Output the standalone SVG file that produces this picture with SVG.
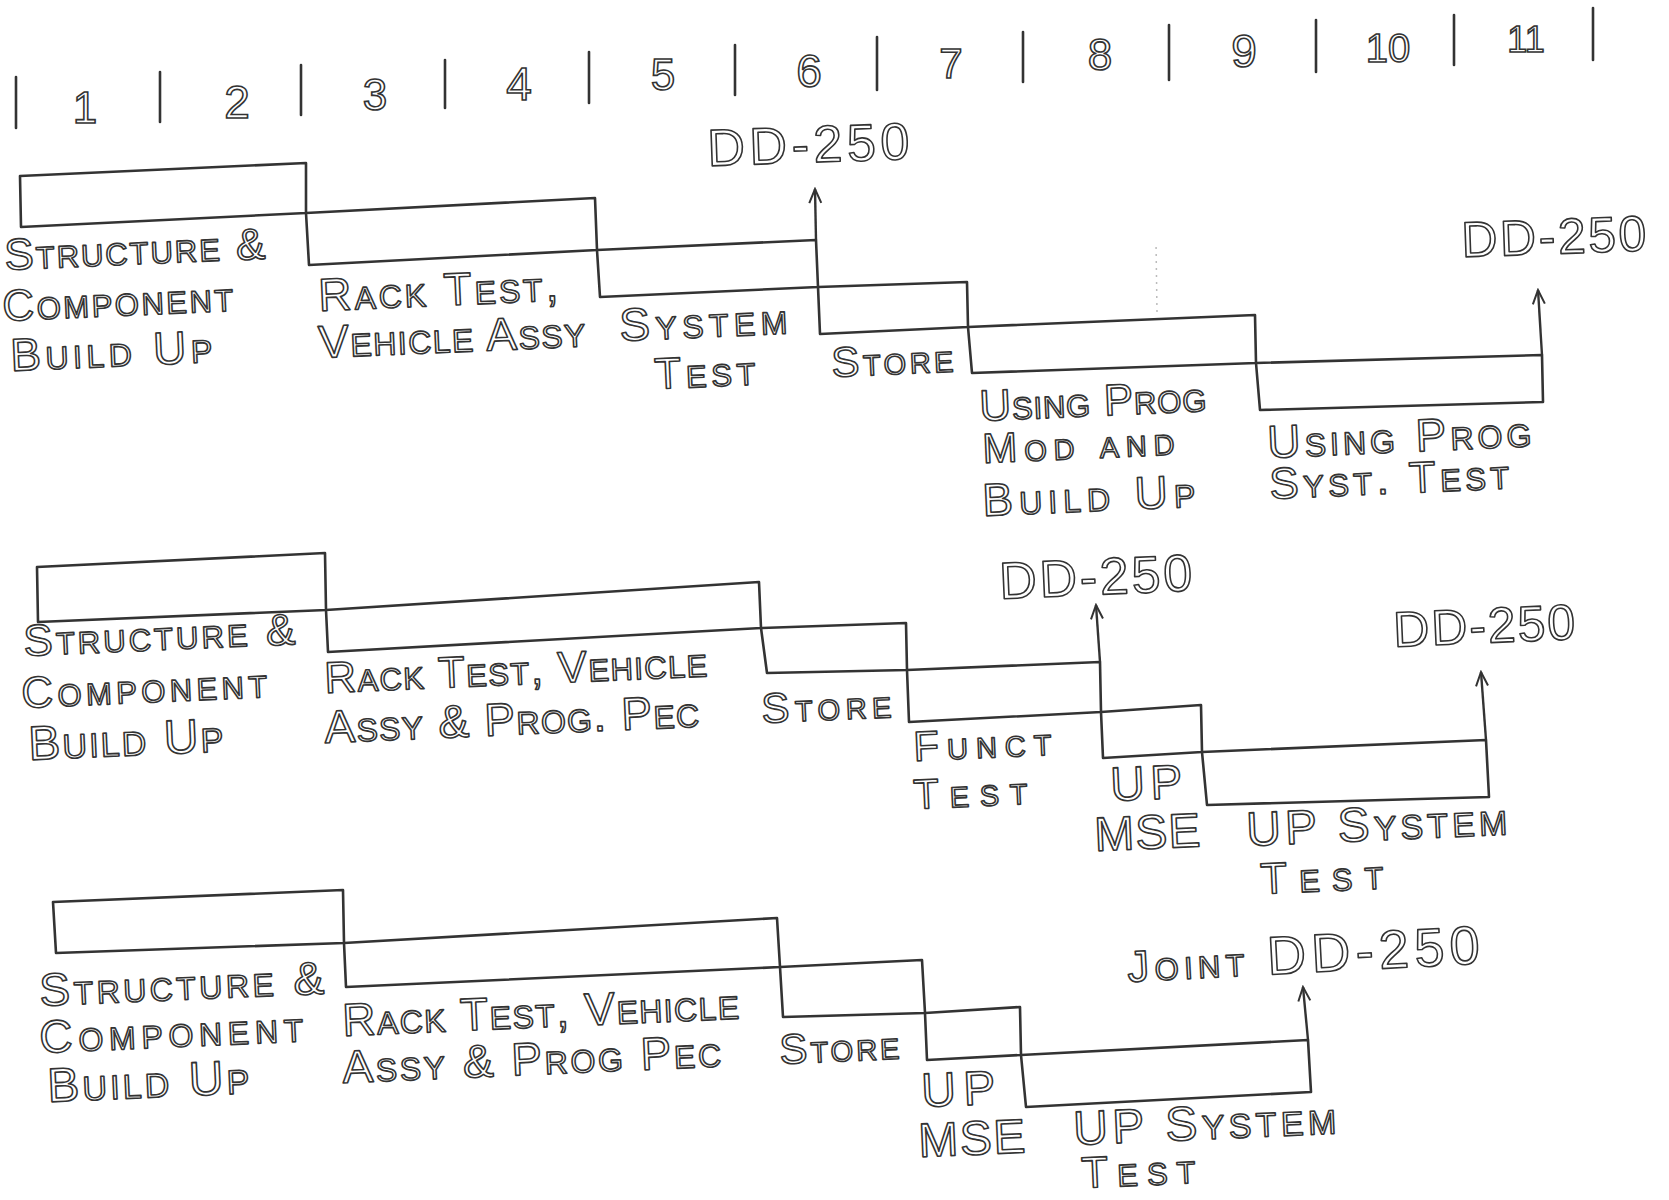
<svg xmlns="http://www.w3.org/2000/svg" width="1669" height="1200" viewBox="0 0 1669 1200">
<style>
.bg{fill:#fff}
.bar{fill:none;stroke:#333;stroke-width:2.6;stroke-linejoin:round}
.tick{stroke:#333;stroke-width:2.6;stroke-linecap:round}
.arr{fill:none;stroke:#333;stroke-width:2.4}
.lbl{font-family:"Liberation Sans",Arial,sans-serif;font-variant:small-caps;fill:#fff;stroke:#333;stroke-width:1.6;stroke-linejoin:round}
.num{font-family:"Liberation Sans",Arial,sans-serif;fill:#fff;stroke:#333;stroke-width:1.6;text-anchor:middle}
.faint{fill:none;stroke:#bbb;stroke-width:1.5;stroke-dasharray:2 5}
</style>
<defs>
<marker id="ah" viewBox="-2 -9 18 18" refX="14" refY="0" markerWidth="18" markerHeight="18" markerUnits="userSpaceOnUse" orient="auto">
<path d="M0,-6 L14,0 L0,6" fill="none" stroke="#333" stroke-width="2"/>
</marker>
</defs>
<rect class="bg" x="0" y="0" width="1669" height="1200"/>

<g id="timeline">
<line class="tick" x1="16" y1="128" x2="16" y2="77"/>
<line class="tick" x1="160" y1="122" x2="160" y2="72"/>
<line class="tick" x1="301" y1="115" x2="301" y2="65"/>
<line class="tick" x1="445" y1="108" x2="445" y2="60"/>
<line class="tick" x1="589" y1="103" x2="589" y2="52"/>
<line class="tick" x1="735" y1="95" x2="735" y2="45"/>
<line class="tick" x1="877" y1="90" x2="877" y2="37"/>
<line class="tick" x1="1023" y1="82" x2="1023" y2="32"/>
<line class="tick" x1="1169" y1="80" x2="1169" y2="25"/>
<line class="tick" x1="1316" y1="72" x2="1316" y2="20"/>
<line class="tick" x1="1454" y1="65" x2="1454" y2="15"/>
<line class="tick" x1="1593" y1="60" x2="1593" y2="8"/>
<text class="num" x="85" y="123" font-size="44">1</text>
<text class="num" x="237" y="118" font-size="46">2</text>
<text class="num" x="375" y="110" font-size="44">3</text>
<text class="num" x="519" y="100" font-size="46">4</text>
<text class="num" x="663" y="90" font-size="44">5</text>
<text class="num" x="809" y="87" font-size="46">6</text>
<text class="num" x="951" y="78" font-size="42">7</text>
<text class="num" x="1100" y="70" font-size="44">8</text>
<text class="num" x="1244" y="67" font-size="46">9</text>
<text class="num" x="1388" y="62" font-size="40">10</text>
<text class="num" x="1526" y="52" font-size="36">11</text>
</g>

<!-- Row 1 -->
<g id="r1-structure">
<polygon class="bar" points="20,176 306,163 306,213 21,227"/>
<text class="lbl" x="5" y="270" font-size="44" textLength="261" lengthAdjust="spacing" transform="rotate(-2.5 5 270)">Structure &amp;</text>
<text class="lbl" x="3" y="321" font-size="44" textLength="231" lengthAdjust="spacing" transform="rotate(-2.5 3 321)">Component</text>
<text class="lbl" x="11" y="371" font-size="46" textLength="202" lengthAdjust="spacing" transform="rotate(-2.5 11 371)">Build Up</text>
</g>
<g id="r1-rack">
<polygon class="bar" points="306,213 595,198 597,250 309,265"/>
<text class="lbl" x="319" y="311" font-size="46" textLength="240" lengthAdjust="spacing" transform="rotate(-2.5 319 311)">Rack Test,</text>
<text class="lbl" x="319" y="358" font-size="46" textLength="267" lengthAdjust="spacing" transform="rotate(-2.5 319 358)">Vehicle Assy</text>
</g>
<g id="r1-system">
<polygon class="bar" points="597,250 816,240 818,287 600,297"/>
<text class="lbl" x="620" y="341" font-size="46" textLength="168" lengthAdjust="spacing" transform="rotate(-2.5 620 341)">System</text>
<text class="lbl" x="655" y="389" font-size="44" textLength="101" lengthAdjust="spacing" transform="rotate(-2.5 655 389)">Test</text>
</g>
<g id="r1-store">
<polygon class="bar" points="818,287 967,282 968,327 820,334"/>
<text class="lbl" x="832" y="377" font-size="42" textLength="122" lengthAdjust="spacing" transform="rotate(-2.5 832 377)">Store</text>
</g>
<g id="r1-mod">
<polygon class="bar" points="968,327 1255,315 1256,363 972,373"/>
<text class="lbl" x="980" y="421" font-size="44" textLength="227" lengthAdjust="spacing" transform="rotate(-2.5 980 421)">Using Prog</text>
<text class="lbl" x="983" y="463" font-size="42" textLength="192" lengthAdjust="spacing" transform="rotate(-2.5 983 463)">Mod and</text>
<text class="lbl" x="983" y="516" font-size="46" textLength="213" lengthAdjust="spacing" transform="rotate(-2.5 983 516)">Build Up</text>
</g>
<g id="r1-systest">
<polygon class="bar" points="1256,363 1542,355 1543,402 1260,410"/>
<text class="lbl" x="1268" y="458" font-size="46" textLength="264" lengthAdjust="spacing" transform="rotate(-2.5 1268 458)">Using Prog</text>
<text class="lbl" x="1270" y="499" font-size="44" textLength="240" lengthAdjust="spacing" transform="rotate(-2.5 1270 499)">Syst. Test</text>
</g>
<g id="r1-dd250-a">
<text class="lbl" x="708" y="166" font-size="52" textLength="202" lengthAdjust="spacing" transform="rotate(-2 708 166)">DD-250</text>
</g>
<g id="r1-dd250-b">
<text class="lbl" x="1462" y="257" font-size="50" textLength="185" lengthAdjust="spacing" transform="rotate(-2 1462 257)">DD-250</text>
</g>

<!-- Row 2 -->
<g id="r2-structure">
<polygon class="bar" points="37,567 325,553 326,610 38,622"/>
<text class="lbl" x="24" y="656" font-size="44" textLength="272" lengthAdjust="spacing" transform="rotate(-2.5 24 656)">Structure &amp;</text>
<text class="lbl" x="22" y="708" font-size="44" textLength="246" lengthAdjust="spacing" transform="rotate(-2.5 22 708)">Component</text>
<text class="lbl" x="29" y="760" font-size="48" textLength="195" lengthAdjust="spacing" transform="rotate(-2.5 29 760)">Build Up</text>
</g>
<g id="r2-rack">
<polygon class="bar" points="326,610 759,582 761,628 328,652"/>
<text class="lbl" x="325" y="693" font-size="44" textLength="383" lengthAdjust="spacing" transform="rotate(-2.5 325 693)">Rack Test, Vehicle</text>
<text class="lbl" x="325" y="743" font-size="46" textLength="375" lengthAdjust="spacing" transform="rotate(-2.5 325 743)">Assy &amp; Prog. Pec</text>
</g>
<g id="r2-store">
<polygon class="bar" points="761,628 906,623 907,670 767,673"/>
<text class="lbl" x="762" y="723" font-size="42" textLength="130" lengthAdjust="spacing" transform="rotate(-2.5 762 723)">Store</text>
</g>
<g id="r2-funct">
<polygon class="bar" points="907,670 1100,662 1101,712 909,722"/>
<text class="lbl" x="914" y="761" font-size="42" textLength="138" lengthAdjust="spacing" transform="rotate(-2.5 914 761)">Funct</text>
<text class="lbl" x="914" y="809" font-size="42" textLength="114" lengthAdjust="spacing" transform="rotate(-2.5 914 809)">Test</text>
</g>
<g id="r2-mse">
<polygon class="bar" points="1101,712 1201,705 1202,752 1103,758"/>
<text class="lbl" x="1111" y="801" font-size="48" textLength="72" lengthAdjust="spacing" transform="rotate(-2.5 1111 801)">UP</text>
<text class="lbl" x="1095" y="851" font-size="48" textLength="106" lengthAdjust="spacing" transform="rotate(-2.5 1095 851)">MSE</text>
</g>
<g id="r2-systest">
<polygon class="bar" points="1202,752 1486,740 1489,797 1207,805"/>
<text class="lbl" x="1247" y="846" font-size="48" textLength="261" lengthAdjust="spacing" transform="rotate(-2.5 1247 846)">UP System</text>
<text class="lbl" x="1261" y="894" font-size="44" textLength="123" lengthAdjust="spacing" transform="rotate(-2.5 1261 894)">Test</text>
</g>
<g id="r2-dd250-a">
<text class="lbl" x="1000" y="599" font-size="52" textLength="193" lengthAdjust="spacing" transform="rotate(-2.5 1000 599)">DD-250</text>
</g>
<g id="r2-dd250-b">
<text class="lbl" x="1394" y="647" font-size="50" textLength="182" lengthAdjust="spacing" transform="rotate(-2.5 1394 647)">DD-250</text>
</g>

<!-- Row 3 -->
<g id="r3-structure">
<polygon class="bar" points="53,902 343,890 344,943 56,953"/>
<text class="lbl" x="40" y="1006" font-size="46" textLength="285" lengthAdjust="spacing" transform="rotate(-2.5 40 1006)">Structure &amp;</text>
<text class="lbl" x="40" y="1053" font-size="46" textLength="264" lengthAdjust="spacing" transform="rotate(-2.5 40 1053)">Component</text>
<text class="lbl" x="48" y="1102" font-size="48" textLength="202" lengthAdjust="spacing" transform="rotate(-2.5 48 1102)">Build Up</text>
</g>
<g id="r3-rack">
<polygon class="bar" points="344,943 777,918 780,967 346,987"/>
<text class="lbl" x="343" y="1036" font-size="46" textLength="397" lengthAdjust="spacing" transform="rotate(-2.5 343 1036)">Rack Test, Vehicle</text>
<text class="lbl" x="343" y="1083" font-size="46" textLength="379" lengthAdjust="spacing" transform="rotate(-2.5 343 1083)">Assy &amp; Prog Pec</text>
</g>
<g id="r3-store">
<polygon class="bar" points="780,967 922,960 925,1013 783,1017"/>
<text class="lbl" x="780" y="1064" font-size="42" textLength="120" lengthAdjust="spacing" transform="rotate(-2.5 780 1064)">Store</text>
</g>
<g id="r3-mse">
<polygon class="bar" points="925,1013 1020,1007 1021,1055 927,1060"/>
<text class="lbl" x="922" y="1107" font-size="48" textLength="74" lengthAdjust="spacing" transform="rotate(-2.5 922 1107)">UP</text>
<text class="lbl" x="919" y="1157" font-size="48" textLength="107" lengthAdjust="spacing" transform="rotate(-2.5 919 1157)">MSE</text>
</g>
<g id="r3-systest">
<polygon class="bar" points="1021,1055 1308,1040 1311,1092 1026,1107"/>
<text class="lbl" x="1074" y="1145" font-size="48" textLength="263" lengthAdjust="spacing" transform="rotate(-2.5 1074 1145)">UP System</text>
<text class="lbl" x="1082" y="1188" font-size="44" textLength="114" lengthAdjust="spacing" transform="rotate(-2.5 1082 1188)">Test</text>
</g>
<g id="r3-joint-dd250">
<text class="lbl" x="1128" y="982" textLength="353" lengthAdjust="spacing" transform="rotate(-3 1128 982)"><tspan font-size="44">Joint </tspan><tspan font-size="54">DD-250</tspan></text>
</g>

<g id="connectors">
<line class="arr" x1="816" y1="240" x2="815" y2="189" marker-end="url(#ah)"/>
<line class="arr" x1="1542" y1="355" x2="1538" y2="290" marker-end="url(#ah)"/>
<line class="arr" x1="1100" y1="662" x2="1096" y2="605" marker-end="url(#ah)"/>
<line class="arr" x1="1486" y1="740" x2="1481" y2="672" marker-end="url(#ah)"/>
<line class="arr" x1="1308" y1="1040" x2="1303" y2="987" marker-end="url(#ah)"/>
<line class="faint" x1="1157" y1="312" x2="1156" y2="242"/>
</g>
</svg>
